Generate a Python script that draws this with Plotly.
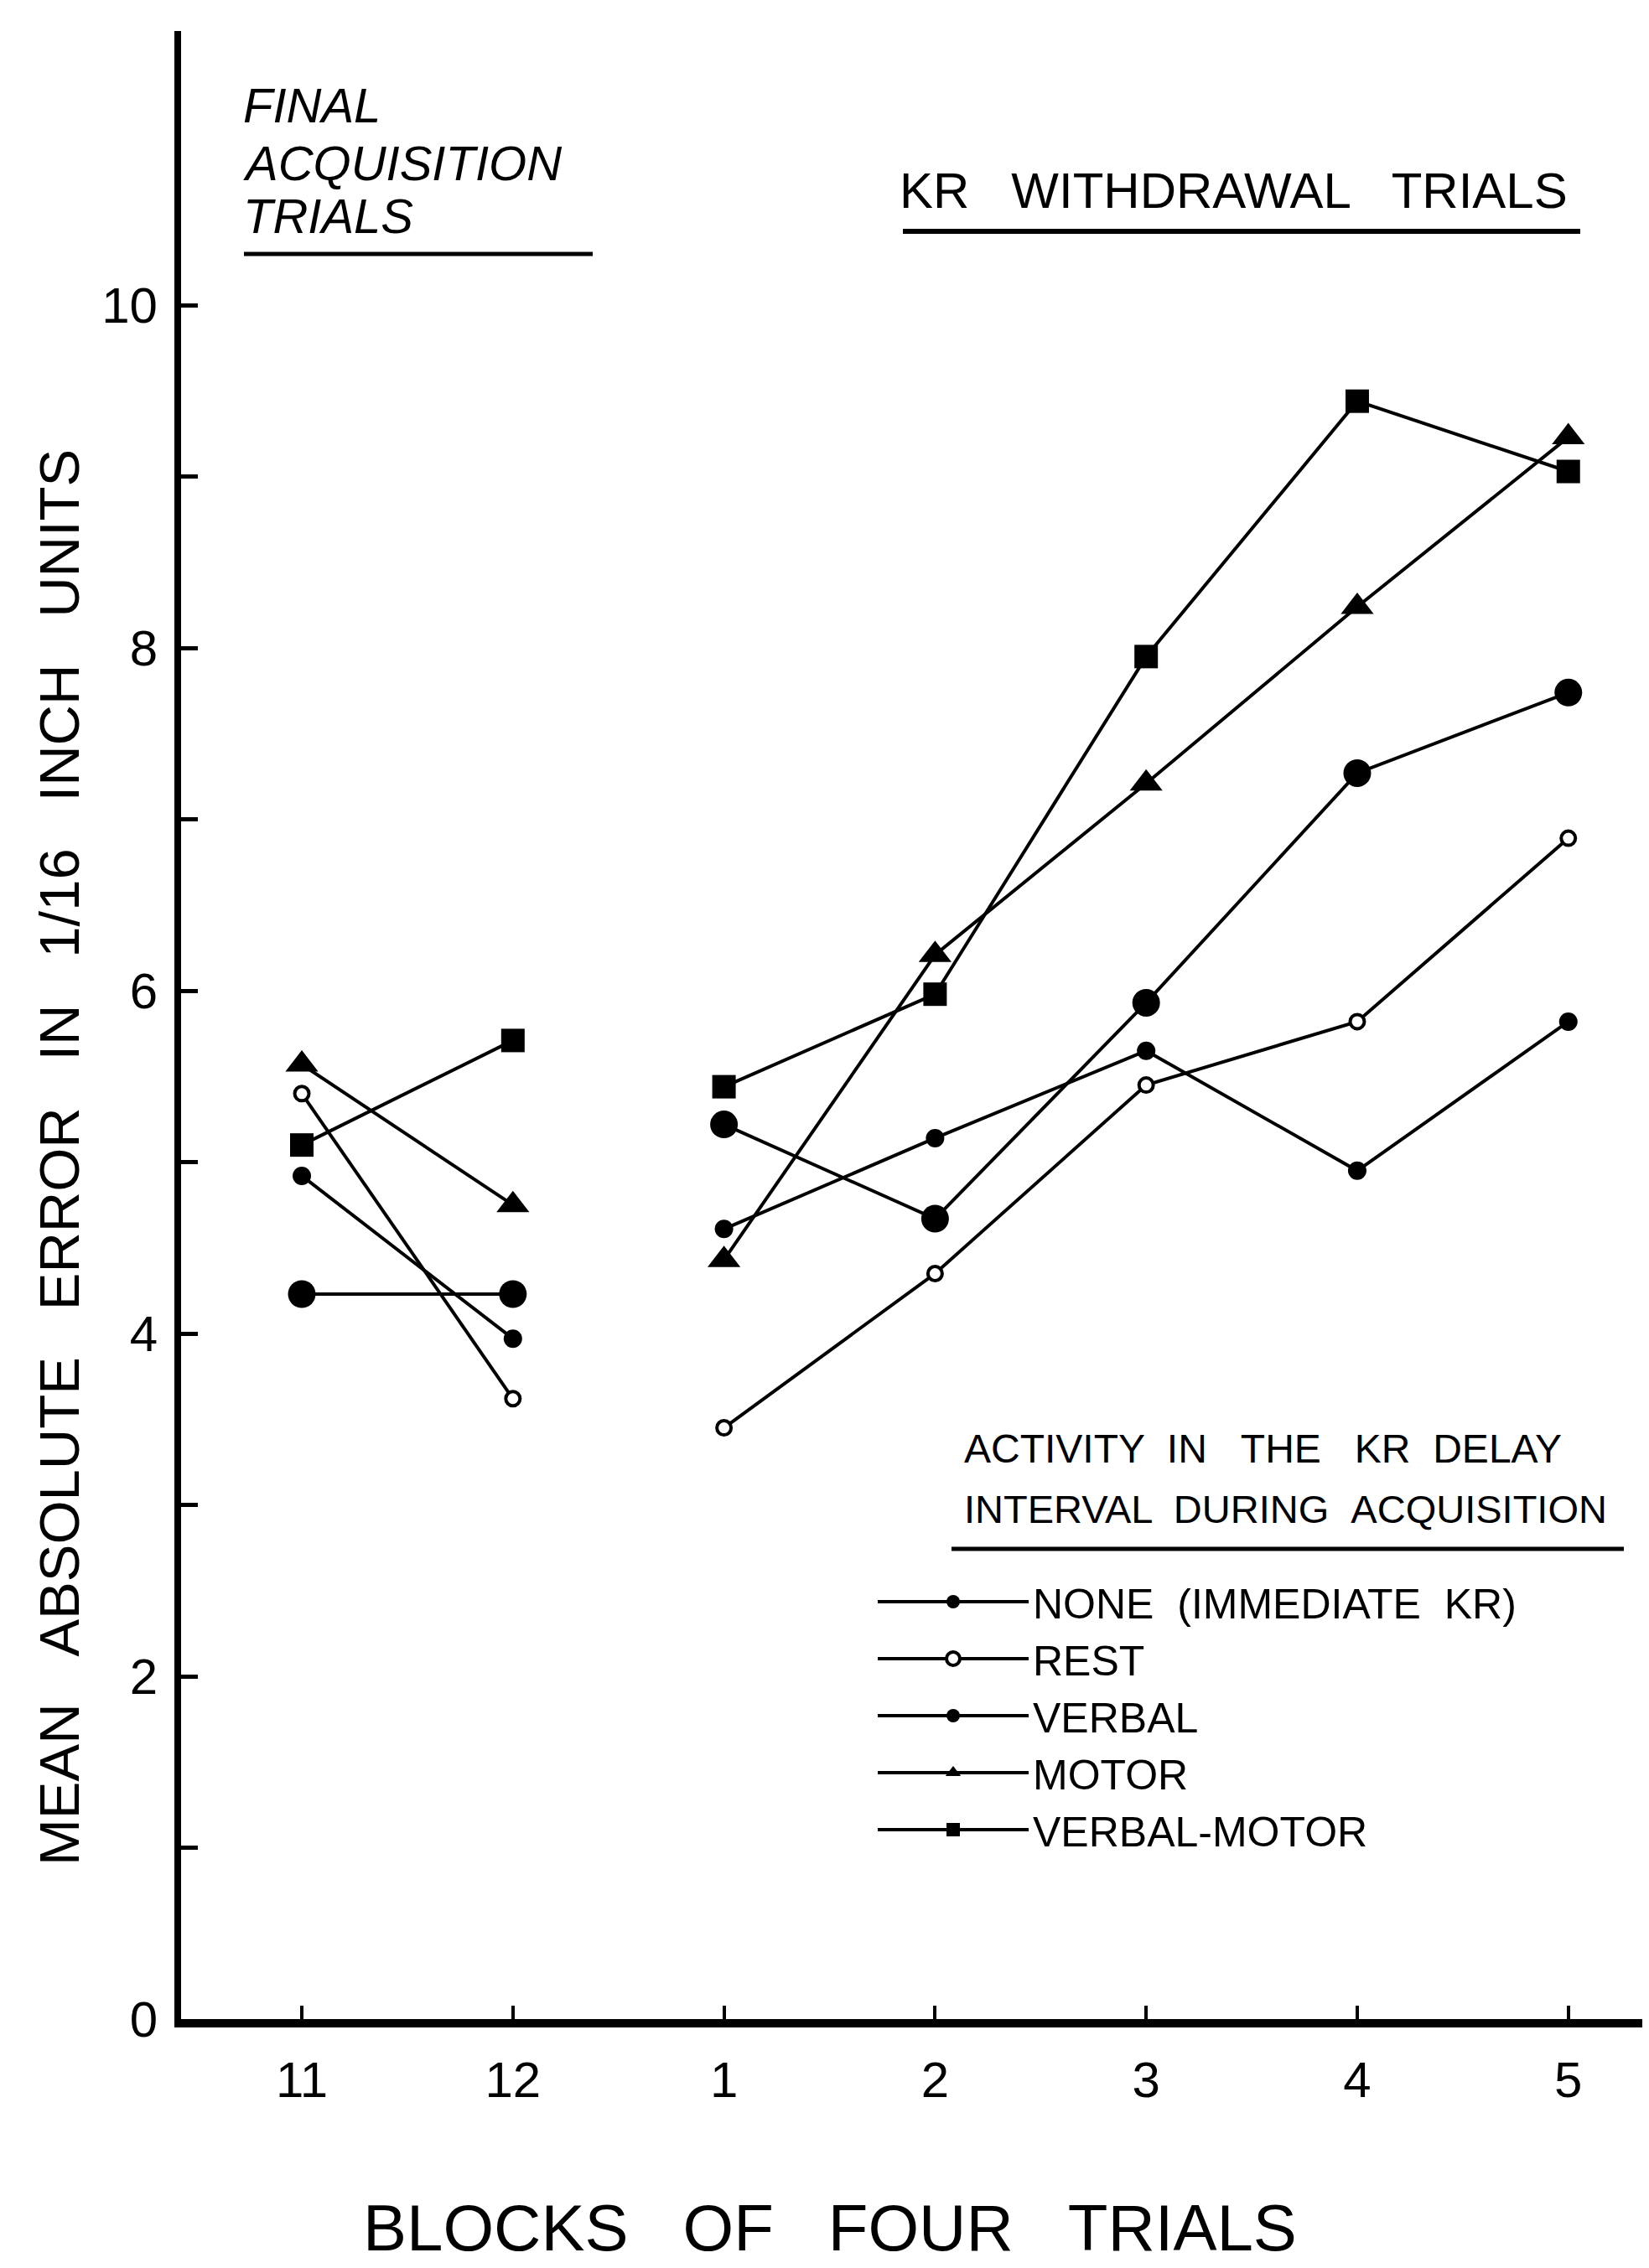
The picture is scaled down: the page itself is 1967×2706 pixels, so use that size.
import plotly.graph_objects as go

# ---------------- data ----------------
block_labels = ["11", "12", "1", "2", "3", "4", "5"]
acq_blocks = ["11", "12"]
wd_blocks = ["1", "2", "3", "4", "5"]

group_names = ["NONE \u00a0(IMMEDIATE \u00a0KR)", "REST", "VERBAL", "MOTOR", "VERBAL-MOTOR"]

none_acq = [4.92, 3.97]
none_wd = [4.61, 5.14, 5.65, 4.95, 5.82]
rest_acq = [5.40, 3.62]
rest_wd = [3.45, 4.35, 5.45, 5.82, 6.89]
verbal_acq = [4.23, 4.23]
verbal_wd = [5.22, 4.67, 5.93, 7.27, 7.74]
motor_acq = [5.57, 4.75]
motor_wd = [4.43, 6.21, 7.21, 8.24, 9.23]
vm_acq = [5.10, 5.71]
vm_wd = [5.44, 5.98, 7.95, 9.44, 9.03]

y_tick_values = list(range(0, 11))
y_tick_labels = ["0", "", "2", "", "4", "", "6", "", "8", "", "10"]

# ---------------- layout helpers ----------------
W, H = 1967, 2706
L, R, T, B = 208, 0, 29, 305
FONT = "Liberation Sans, Arial, sans-serif"
SP = " \u00a0\u00a0"


def px(x):
    return (x - L) / (W - L - R)


def py(y):
    return (H - B - y) / (H - T - B)


series = [
    (group_names[0], none_acq, none_wd, dict(symbol="circle", size=22, color="black")),
    (group_names[1], rest_acq, rest_wd, dict(symbol="circle", size=17, color="white",
                                               line=dict(color="black", width=4))),
    (group_names[2], verbal_acq, verbal_wd, dict(symbol="circle", size=33, color="black")),
    (group_names[3], motor_acq, motor_wd, dict(symbol="triangle-up", size=34, color="black")),
    (group_names[4], vm_acq, vm_wd, dict(symbol="square", size=28, color="black")),
]

fig = go.Figure()
for name, acq, wd, mk in series:
    fig.add_trace(go.Scatter(
        x=acq_blocks + [None] + wd_blocks,
        y=acq + [None] + wd,
        mode="lines+markers",
        name=name,
        line=dict(color="black", width=4),
        marker=mk,
        connectgaps=False,
        cliponaxis=False,
    ))

annotations = [
    dict(text="<i>FINAL</i>", x=px(280), y=py(117), xanchor="left", yanchor="middle",
         font=dict(size=58)),
    dict(text="<i>ACQUISITION</i>", x=px(280), y=py(186), xanchor="left", yanchor="middle",
         font=dict(size=58)),
    dict(text="<i>TRIALS</i>", x=px(280), y=py(249), xanchor="left", yanchor="middle",
         font=dict(size=58)),
    dict(text="KR" + SP + "WITHDRAWAL" + SP + "TRIALS", x=px(1063), y=py(220),
         xanchor="left", yanchor="middle", font=dict(size=60)),
    dict(text="ACTIVITY \u00a0IN \u00a0\u00a0THE \u00a0\u00a0KR \u00a0DELAY",
         x=px(1140), y=py(1721), xanchor="left", yanchor="middle", font=dict(size=48)),
    dict(text="INTERVAL \u00a0DURING \u00a0ACQUISITION",
         x=px(1140), y=py(1792), xanchor="left", yanchor="middle", font=dict(size=47)),
    dict(text=SP.join(["MEAN", "ABSOLUTE", "ERROR", "IN", "1/16", "INCH", "UNITS"]),
         x=px(62), y=py(1373), xanchor="center", yanchor="middle", textangle=-90,
         font=dict(size=67)),
    dict(text=SP.join(["BLOCKS", "OF", "FOUR", "TRIALS"]), x=px(982), y=py(2650),
         xanchor="center", yanchor="middle", font=dict(size=78)),
]
for a in annotations:
    a.update(xref="paper", yref="paper", showarrow=False)
    a["font"].update(family=FONT, color="black")

shapes = []
for (x0, x1, yy, w) in [(283, 699, 295, 5), (1069, 1877, 268, 6), (1127, 1929, 1840, 5)]:
    shapes.append(dict(type="line", xref="paper", yref="paper",
                       x0=px(x0), x1=px(x1), y0=py(yy), y1=py(yy),
                       line=dict(color="black", width=w)))

fig.update_layout(
    width=W, height=H,
    margin=dict(l=L, r=R, t=T, b=B, autoexpand=False),
    paper_bgcolor="white", plot_bgcolor="white",
    font=dict(family=FONT, color="black"),
    showlegend=True,
    legend=dict(x=px(1034), y=py(1864), xanchor="left", yanchor="top",
                bgcolor="rgba(0,0,0,0)", font=dict(size=50, family=FONT, color="black"),
                itemwidth=180, traceorder="normal"),
    annotations=annotations,
    shapes=shapes,
    xaxis=dict(type="category", categoryorder="array", categoryarray=block_labels,
               tickmode="array", tickvals=block_labels, ticktext=block_labels,
               range=[-0.572, 6.414], showline=True, linewidth=10, linecolor="black",
               ticks="inside", ticklen=16, tickwidth=4, tickcolor="black",
               showgrid=False, zeroline=False, ticklabelstandoff=11,
               tickfont=dict(size=60, family=FONT, color="black")),
    yaxis=dict(range=[0, 11.6], tickmode="array", tickvals=y_tick_values,
               ticktext=y_tick_labels, showline=True, linewidth=8, linecolor="black",
               ticks="inside", ticklen=20, tickwidth=5, tickcolor="black",
               showgrid=False, zeroline=False, ticklabelstandoff=8,
               tickfont=dict(size=60, family=FONT, color="black")),
)

fig.write_html("out.html")
